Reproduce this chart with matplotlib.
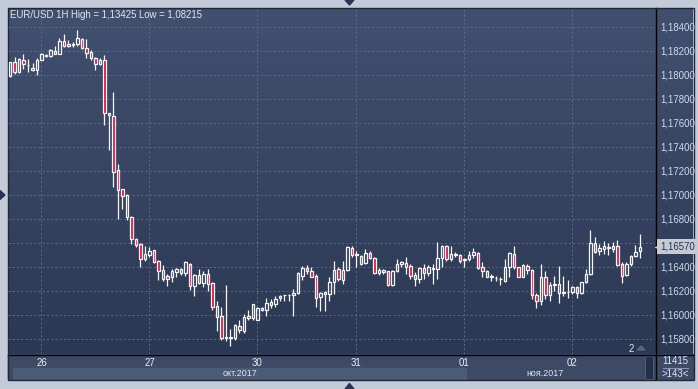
import numpy as np
import matplotlib
matplotlib.use('Agg')
import matplotlib.pyplot as plt
from matplotlib.patches import Rectangle, Polygon
from matplotlib.colors import LinearSegmentedColormap
from matplotlib.transforms import blended_transform_factory
from matplotlib.ticker import FuncFormatter

W, H = 698, 389

title = 'EUR/USD 1H High = 1,13425 Low = 1,08215'
opens = [1.17992, 1.18111, 1.18025, 1.18128, 1.18081, 1.18061, 1.18044, 1.18128, 1.18169, 1.18158,
         1.18200, 1.18178, 1.18283, 1.18244, 1.18253, 1.18256, 1.18300, 1.18228, 1.18194, 1.18144,
         1.18089, 1.18128, 1.17683, 1.17658, 1.17206, 1.17047, 1.16997, 1.16819, 1.16636, 1.16592,
         1.16467, 1.16497, 1.16539, 1.16450, 1.16372, 1.16322, 1.16317, 1.16358, 1.16386, 1.16350,
         1.16428, 1.16242, 1.16336, 1.16267, 1.16344, 1.16269, 1.16072, 1.15989, 1.15811, 1.15811,
         1.15811, 1.15906, 1.15867, 1.15978, 1.15978, 1.15961, 1.16061, 1.16042, 1.16106, 1.16092,
         1.16142, 1.16164, 1.16167, 1.16167, 1.16181, 1.16328, 1.16392, 1.16369, 1.16322, 1.16147,
         1.16194, 1.16175, 1.16272, 1.16383, 1.16292, 1.16375, 1.16558, 1.16503, 1.16492, 1.16431,
         1.16517, 1.16475, 1.16347, 1.16375, 1.16364, 1.16253, 1.16364, 1.16425, 1.16433, 1.16411,
         1.16336, 1.16300, 1.16389, 1.16350, 1.16394, 1.16383, 1.16475, 1.16578, 1.16467, 1.16503,
         1.16503, 1.16458, 1.16464, 1.16497, 1.16517, 1.16397, 1.16364, 1.16319, 1.16306, 1.16303,
         1.16281, 1.16397, 1.16508, 1.16397, 1.16319, 1.16411, 1.16378, 1.16169, 1.16114, 1.16317,
         1.16169, 1.16247, 1.16258, 1.16181, 1.16192, 1.16189, 1.16236, 1.16183, 1.16272, 1.16342,
         1.16600, 1.16536, 1.16550, 1.16561, 1.16550, 1.16578, 1.16425, 1.16333, 1.16425, 1.16489,
         1.16536]
highs = [1.18111, 1.18153, 1.18139, 1.18178, 1.18133, 1.18100, 1.18144, 1.18183, 1.18172, 1.18217,
         1.18239, 1.18311, 1.18339, 1.18294, 1.18278, 1.18372, 1.18311, 1.18297, 1.18206, 1.18150,
         1.18144, 1.18167, 1.17686, 1.17861, 1.17261, 1.17053, 1.17006, 1.16825, 1.16644, 1.16597,
         1.16572, 1.16567, 1.16544, 1.16456, 1.16414, 1.16339, 1.16386, 1.16394, 1.16394, 1.16450,
         1.16433, 1.16344, 1.16386, 1.16367, 1.16386, 1.16275, 1.16117, 1.16067, 1.16247, 1.15883,
         1.15928, 1.15956, 1.16006, 1.16039, 1.16094, 1.16067, 1.16067, 1.16140, 1.16133, 1.16161,
         1.16169, 1.16169, 1.16175, 1.16217, 1.16356, 1.16411, 1.16419, 1.16397, 1.16342, 1.16189,
         1.16203, 1.16314, 1.16453, 1.16397, 1.16453, 1.16578, 1.16578, 1.16536, 1.16503, 1.16550,
         1.16531, 1.16481, 1.16392, 1.16383, 1.16369, 1.16375, 1.16470, 1.16453, 1.16486, 1.16425,
         1.16356, 1.16397, 1.16425, 1.16419, 1.16425, 1.16611, 1.16586, 1.16586, 1.16578, 1.16522,
         1.16508, 1.16475, 1.16536, 1.16558, 1.16522, 1.16439, 1.16375, 1.16342, 1.16325, 1.16320,
         1.16467, 1.16522, 1.16578, 1.16403, 1.16425, 1.16425, 1.16383, 1.16183, 1.16425, 1.16369,
         1.16272, 1.16328, 1.16411, 1.16328, 1.16294, 1.16244, 1.16244, 1.16278, 1.16383, 1.16711,
         1.16647, 1.16592, 1.16619, 1.16600, 1.16606, 1.16628, 1.16439, 1.16439, 1.16500, 1.16583,
         1.16675]
lows = [1.17980, 1.18011, 1.18020, 1.18047, 1.18025, 1.18036, 1.17997, 1.18122, 1.18150, 1.18150,
        1.18172, 1.18172, 1.18233, 1.18233, 1.18233, 1.18244, 1.18214, 1.18144, 1.18122, 1.18042,
        1.18083, 1.17583, 1.17375, 1.17069, 1.16800, 1.16881, 1.16789, 1.16589, 1.16567, 1.16397,
        1.16450, 1.16483, 1.16433, 1.16294, 1.16281, 1.16239, 1.16275, 1.16317, 1.16336, 1.16322,
        1.16206, 1.16156, 1.16256, 1.16233, 1.16200, 1.16039, 1.15867, 1.15789, 1.15783, 1.15742,
        1.15789, 1.15850, 1.15850, 1.15961, 1.15961, 1.15956, 1.16036, 1.15990, 1.16058, 1.16064,
        1.16114, 1.16114, 1.16119, 1.15992, 1.16175, 1.16294, 1.16342, 1.16314, 1.16064, 1.16036,
        1.16036, 1.16114, 1.16175, 1.16286, 1.16258, 1.16369, 1.16486, 1.16397, 1.16419, 1.16425,
        1.16467, 1.16342, 1.16336, 1.16342, 1.16244, 1.16244, 1.16356, 1.16397, 1.16342, 1.16300,
        1.16244, 1.16264, 1.16300, 1.16322, 1.16258, 1.16300, 1.16397, 1.16453, 1.16453, 1.16481,
        1.16431, 1.16403, 1.16447, 1.16475, 1.16383, 1.16314, 1.16314, 1.16286, 1.16281, 1.16250,
        1.16272, 1.16320, 1.16383, 1.16314, 1.16314, 1.16342, 1.16133, 1.16056, 1.16083, 1.16133,
        1.16120, 1.16203, 1.16097, 1.16161, 1.16139, 1.16175, 1.16139, 1.16175, 1.16267, 1.16333,
        1.16517, 1.16500, 1.16508, 1.16500, 1.16522, 1.16406, 1.16264, 1.16322, 1.16411, 1.16481,
        1.16472]
closes = [1.18111, 1.18025, 1.18133, 1.18094, 1.18086, 1.18044, 1.18128, 1.18172, 1.18156, 1.18206,
          1.18178, 1.18283, 1.18244, 1.18261, 1.18258, 1.18306, 1.18222, 1.18186, 1.18139, 1.18094,
          1.18128, 1.17681, 1.17667, 1.17194, 1.17042, 1.16992, 1.16817, 1.16633, 1.16583, 1.16465,
          1.16506, 1.16533, 1.16442, 1.16369, 1.16303, 1.16303, 1.16364, 1.16386, 1.16350, 1.16442,
          1.16242, 1.16330, 1.16267, 1.16344, 1.16256, 1.16067, 1.15983, 1.15811, 1.15817, 1.15817,
          1.15914, 1.15872, 1.15983, 1.15989, 1.16089, 1.16061, 1.16044, 1.16104, 1.16086, 1.16133,
          1.16161, 1.16167, 1.16169, 1.16183, 1.16347, 1.16392, 1.16369, 1.16319, 1.16142, 1.16181,
          1.16175, 1.16272, 1.16375, 1.16300, 1.16375, 1.16564, 1.16503, 1.16508, 1.16425, 1.16517,
          1.16475, 1.16347, 1.16375, 1.16356, 1.16253, 1.16364, 1.16425, 1.16444, 1.16403, 1.16328,
          1.16300, 1.16389, 1.16350, 1.16403, 1.16381, 1.16475, 1.16578, 1.16467, 1.16508, 1.16508,
          1.16447, 1.16464, 1.16503, 1.16522, 1.16392, 1.16369, 1.16319, 1.16322, 1.16308, 1.16300,
          1.16397, 1.16514, 1.16397, 1.16319, 1.16419, 1.16378, 1.16169, 1.16114, 1.16317, 1.16169,
          1.16253, 1.16258, 1.16181, 1.16194, 1.16194, 1.16236, 1.16183, 1.16272, 1.16342, 1.16600,
          1.16522, 1.16556, 1.16572, 1.16564, 1.16578, 1.16417, 1.16322, 1.16425, 1.16494, 1.16528,
          1.16570]

day_ticks = [7, 31, 55, 77, 101, 125]
day_labels = ['26', '27', '30', '31', '01', '02']
month_labels = ['окт.2017', 'ноя.2017']
price_ticks = [1.158, 1.160, 1.162, 1.164, 1.166, 1.168, 1.170, 1.172,
               1.174, 1.176, 1.178, 1.180, 1.182, 1.184]
last_price = 1.16570
counter_top = '11415'
counter_bottom = '>143<'
page_label = '2'

FONT = ['Liberation Sans', 'DejaVu Sans']
plt.rcParams['font.family'] = FONT
FS = 6.9

def frect(x0, y0, x1, y1):
    return [x0 / W, 1 - y1 / H, (x1 - x0) / W, (y1 - y0) / H]

fig = plt.figure(figsize=(W / 100, H / 100), dpi=100)

# ---------- background layer (pixel coords) ----------
bg = fig.add_axes([0, 0, 1, 1])
bg.set_xlim(0, W)
bg.set_ylim(H, 0)
bg.axis('off')
bg.add_patch(Rectangle((0, 0), W, H, color='#c2cbd7', zorder=0))
cmap = LinearSegmentedColormap.from_list('bgc', ['#425070', '#2b3853'])
grad = np.linspace(0, 1, 256).reshape(-1, 1)
bg.imshow(grad, extent=(8, 693, 354, 8), cmap=cmap, aspect='auto',
          interpolation='bilinear', zorder=1)
bg.add_patch(Rectangle((8, 354), 685, 25, color='#3d4a65', zorder=2))
bg.add_patch(Rectangle((13, 367.5), 453, 11.5, color='#4b5a75', zorder=2))
bg.add_patch(Rectangle((645, 356), 8, 23, color='#24304a', ec='#56627c', lw=0.6, zorder=3))
bg.plot([655.5, 655.5], [8, 379], color='black', lw=1, zorder=4)
bg.plot([8, 693], [354.5, 354.5], color='black', lw=1, zorder=4)
bg.add_patch(Rectangle((7.5, 7.5), 686, 372, fill=False, ec='#1f2739', lw=1, zorder=4))
# scroll arrows
bg.add_patch(Polygon([(345, 0), (354, 0), (349.5, 5)], color='#2a3450', zorder=5))
bg.add_patch(Polygon([(345, 389), (354, 389), (349.5, 383.5)], color='#2a3450', zorder=5))
bg.add_patch(Polygon([(0, 190.5), (0, 199.5), (5, 195)], color='#2a3450', zorder=5))
bg.add_patch(Polygon([(637, 350), (645, 350), (641, 346)], color='#5a6580', zorder=5))
bg.plot([663, 688], [367.5, 367.5], color='#8a96ab', lw=0.8, zorder=5)

# ---------- main chart ----------
ax = fig.add_axes(frect(8, 8, 655, 354))
ax.patch.set_alpha(0)
for s in ax.spines.values():
    s.set_visible(False)
ax.set_xlim(-2 / 4.5, (655 - 10) / 4.5)
ax.set_ylim(1.184 - (354 - 27) / 12000, 1.184 + 19 / 12000)


def price_fmt(v, p):
    if abs(v - last_price) < 0.0006:
        return ''  # hidden under the last-price tag
    return f'{v:.5f}'.replace('.', ',')


ax.set_yticks(price_ticks)
ax.yaxis.tick_right()
ax.yaxis.set_major_formatter(FuncFormatter(price_fmt))
ax.tick_params(axis='y', length=0, pad=3.5, labelsize=FS, labelcolor='#cfdaec')
ax.set_xticks(day_ticks)
ax.set_xticklabels(day_labels)
ax.tick_params(axis='x', length=0, pad=3.2, labelsize=FS, labelcolor='#eaeef5')
ax.grid(True, color='#5b6985', linestyle=(0, (2.2, 2.2)), lw=0.7)
ax.set_axisbelow(True)

hw = 0.3
red = '#e8103e'
white = '#f6f6f6'
for i in range(len(opens)):
    o, h, l, c = opens[i], highs[i], lows[i], closes[i]
    top, bot = max(o, c), min(o, c)
    ax.vlines(i, top, h, color=white, lw=0.9, zorder=3)
    ax.vlines(i, l, bot, color=white, lw=0.9, zorder=3)
    fc = red if c < o else 'none'
    ax.add_patch(Rectangle((i - hw, bot), 2 * hw, max(top - bot, 0.00001),
                           facecolor=fc, edgecolor=white, lw=0.9, zorder=4))

# last price tag
tr = blended_transform_factory(ax.transAxes, ax.transData)
ax.text((660 - 8) / 647, last_price, f'{last_price:.5f}'.replace('.', ','),
        transform=tr, ha='left', va='center', fontsize=FS, color='#26314c',
        clip_on=False, zorder=20,
        bbox=dict(boxstyle='square,pad=0.3', fc='#c6cbd3', ec='none'))
ax.plot([(657.5 - 8) / 647], [last_price], transform=tr, marker='<', ms=5.5,
        color='#c6cbd3', clip_on=False, zorder=19, mec='none')

# ---------- texts ----------
fig.text(10 / W, 1 - 15.5 / H, title, fontsize=FS, color='#e2e7ef', ha='left', va='center')
fig.text(240 / W, 1 - 374 / H, month_labels[0], fontsize=6.4, color='#e2e7ef', ha='center', va='center')
fig.text(545 / W, 1 - 374 / H, month_labels[1], fontsize=6.4, color='#e2e7ef', ha='center', va='center')
fig.text(675 / W, 1 - 361 / H, counter_top, fontsize=FS, color='#e2e7ef', ha='center', va='center')
fig.text(675 / W, 1 - 374 / H, counter_bottom, fontsize=FS, color='#e2e7ef', ha='center', va='center')
fig.text(631 / W, 1 - 349 / H, page_label, fontsize=FS, color='#e2e7ef', ha='center', va='center')

fig.savefig('out.png', dpi=100)
